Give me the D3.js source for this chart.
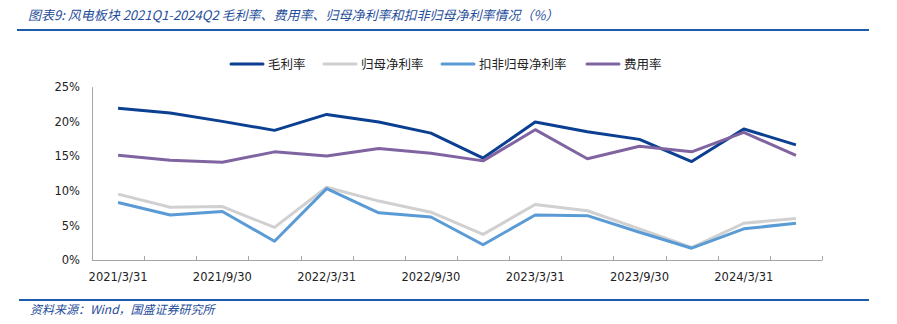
<!DOCTYPE html>
<html><head><meta charset="utf-8">
<script src="https://cdn.jsdelivr.net/npm/d3@7"></script>
<style>body{margin:0;background:#fff}</style>
</head><body>
<svg id="c" width="897" height="324"></svg>
<script>
const categories = ["2021/3/31","2021/6/30","2021/9/30","2021/12/31","2022/3/31","2022/6/30","2022/9/30","2022/12/31","2023/3/31","2023/6/30","2023/9/30","2023/12/31","2024/3/31","2024/6/30"];
const tickLabels = ["2021/3/31","2021/9/30","2022/3/31","2022/9/30","2023/3/31","2023/9/30","2024/3/31"];
const grossMargin = [21.9,21.2,20.0,18.7,21.0,19.9,18.3,14.7,19.9,18.5,17.4,14.2,18.9,16.6];
const netMargin   = [9.5,7.6,7.7,4.7,10.5,8.5,6.9,3.7,8.0,7.1,4.5,1.8,5.3,6.0];
const deductedNet = [8.3,6.5,7.0,2.7,10.3,6.8,6.2,2.2,6.5,6.4,4.0,1.7,4.5,5.3];
const expenseRate = [15.1,14.4,14.1,15.6,15.0,16.1,15.4,14.3,18.8,14.6,16.4,15.6,18.4,15.1];
const yTicks = [0,5,10,15,20,25];
const seriesNames = ["毛利率","归母净利率","扣非归母净利率","费用率"];
const seriesColors = ["#0b3f91","#d0d0d0","#5b9bd5","#8064a2"];
const seriesData = [grossMargin, netMargin, deductedNet, expenseRate];

const svg = d3.select("#c");
const blue = "#1f4e9a";
const cjk = "'Noto Sans CJK SC','Noto Sans',sans-serif";
const num = "'DejaVu Sans',Verdana,sans-serif";

// title & rules
svg.append("text").attr("x",28).attr("y",20).attr("fill",blue)
  .attr("font-family",cjk).attr("font-size",13).attr("font-style","italic")
  .text("图表9:  风电板块 2021Q1-2024Q2 毛利率、费用率、归母净利率和扣非归母净利率情况（%）");
svg.append("line").attr("x1",17).attr("x2",869).attr("y1",30).attr("y2",30).attr("stroke","#1f5bab").attr("stroke-width",2);
svg.append("line").attr("x1",19).attr("x2",869).attr("y1",300).attr("y2",300).attr("stroke","#1f5bab").attr("stroke-width",2);
svg.append("text").attr("x",30).attr("y",314).attr("fill",blue)
  .attr("font-family",cjk).attr("font-size",12).attr("font-style","italic")
  .text("资料来源：Wind，国盛证券研究所");

// scales
const x = d3.scaleBand().domain(categories).range([92,822]);
const y = d3.scaleLinear().domain([0,25]).range([260,86.7]);

// y axis
const ya = svg.append("g").attr("transform","translate(92,0)")
  .call(d3.axisLeft(y).tickValues(yTicks).tickSize(0).tickPadding(12).tickFormat(d=>d+"%"));
ya.select(".domain").attr("stroke","#a6a6a6");
ya.selectAll("text").attr("font-family",num).attr("font-size",11.5).attr("fill","#222");

// x axis
const xa = svg.append("g").attr("transform","translate(0,260)");
xa.append("line").attr("x1",92).attr("x2",822).attr("y1",0.5).attr("y2",0.5).attr("stroke","#a6a6a6");
const bounds = categories.map(c=>x(c)).concat([x.range()[1]]);
xa.selectAll("line.tk").data(bounds).join("line").attr("class","tk")
  .attr("x1",d=>Math.round(d)+0.5).attr("x2",d=>Math.round(d)+0.5).attr("y1",-4).attr("y2",0.5).attr("stroke","#a6a6a6");
xa.selectAll("text").data(tickLabels).join("text")
  .attr("x",d=>x(d)+x.bandwidth()/2).attr("y",21).attr("text-anchor","middle")
  .attr("font-family",num).attr("font-size",11.5).attr("fill","#222").text(d=>d);

// lines in legend order
const line = d3.line().x((d,i)=>x(categories[i])+x.bandwidth()/2).y(d=>y(d));
[0,1,2,3].forEach(k=>{
  svg.append("path").datum(seriesData[k]).attr("d",line).attr("fill","none")
    .attr("stroke",seriesColors[k]).attr("stroke-width",3).attr("stroke-linejoin","round");
});

// legend
const legX = [231,324,442,587];
seriesNames.forEach((n,i)=>{
  svg.append("line").attr("x1",legX[i]).attr("x2",legX[i]+32).attr("y1",64).attr("y2",64)
    .attr("stroke",seriesColors[i]).attr("stroke-width",3).attr("stroke-linecap","round");
  svg.append("text").attr("x",legX[i]+37).attr("y",68.5).attr("font-family",cjk).attr("font-size",12.5)
    .attr("fill","#222").text(n);
});
</script>
</body></html>
